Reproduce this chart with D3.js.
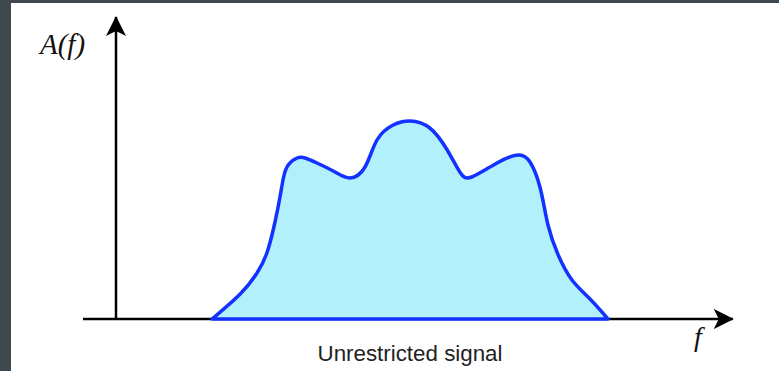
<!DOCTYPE html>
<html><head><meta charset="utf-8">
<script src="https://cdn.jsdelivr.net/npm/d3@7"></script>
<style>html,body{margin:0;padding:0;background:#3e494e;overflow:hidden}</style>
</head><body>
<script>
// Spectrum shape: frequency (arbitrary units) and amplitude (normalised)
const freq = [1.6, 2.07, 2.35, 2.52, 2.65, 2.73, 2.79, 2.87, 3.02, 3.15, 3.35, 3.65, 3.9, 4.15, 4.35, 4.62, 4.9, 5.23, 5.52, 5.73, 5.93, 6.35, 6.7, 6.9, 7.07, 7.2, 7.37, 7.6, 7.9, 8.2];
const amp  = [0, 0.125, 0.23, 0.335, 0.485, 0.605, 0.705, 0.77, 0.805, 0.805, 0.78, 0.735, 0.705, 0.76, 0.895, 0.97, 0.99, 0.955, 0.845, 0.735, 0.71, 0.78, 0.82, 0.785, 0.655, 0.47, 0.32, 0.195, 0.1, 0];
const yLabel = "A(f)";
const xLabel = "f";
const caption = "Unrestricted signal";

const W = 779, H = 371;
const svg = d3.select("body").append("svg").attr("width", W).attr("height", H);
svg.append("rect").attr("width", W).attr("height", H).attr("fill", "#3e494e");
svg.append("rect").attr("x", 11).attr("y", 3).attr("width", W - 11).attr("height", H - 3).attr("fill", "#ffffff");

const x = d3.scaleLinear().domain([0, 10]).range([116, 716]);
const y = d3.scaleLinear().domain([0, 1]).range([319, 119]);

const data = freq.map((f, i) => ({ f, a: amp[i] }));

const area = d3.area().x(d => x(d.f)).y0(y(0)).y1(d => y(d.a)).curve(d3.curveNatural);

const defs = svg.append("defs");
defs.append("marker").attr("id", "arr").attr("viewBox", "0 0 20 20").attr("refX", 19).attr("refY", 10)
  .attr("markerWidth", 20).attr("markerHeight", 20).attr("markerUnits", "userSpaceOnUse").attr("orient", "auto")
  .append("path").attr("d", "M0,0 L20,10 L0,20 L5,10 Z").attr("fill", "#000");

svg.append("line").attr("x1", x(-0.55)).attr("x2", x(10.28)).attr("y1", y(0)).attr("y2", y(0))
  .attr("stroke", "#000").attr("stroke-width", 2.5).attr("marker-end", "url(#arr)");
svg.append("line").attr("x1", x(0)).attr("x2", x(0)).attr("y1", y(0) + 1).attr("y2", 17)
  .attr("stroke", "#000").attr("stroke-width", 2.5).attr("marker-end", "url(#arr)");

svg.append("path").datum(data).attr("d", area)
  .attr("fill", "#b2f0fc").attr("stroke", "#1432ff").attr("stroke-width", 3.5).attr("stroke-linejoin", "round");

svg.append("text").attr("x", 40).attr("y", 54).attr("font-family", "Liberation Serif, serif")
  .attr("font-style", "italic").attr("font-size", 29).attr("fill", "#111").text(yLabel);
svg.append("text").attr("x", 694).attr("y", 346).attr("font-family", "Liberation Serif, serif")
  .attr("font-style", "italic").attr("font-size", 28).attr("fill", "#111").text(xLabel);
svg.append("text").attr("x", 410).attr("y", 361).attr("text-anchor", "middle")
  .attr("font-family", "Liberation Sans, Arial, sans-serif").attr("font-size", 22).attr("fill", "#222")
  .attr("textLength", 185).attr("lengthAdjust", "spacingAndGlyphs").text(caption);
</script>
</body></html>
